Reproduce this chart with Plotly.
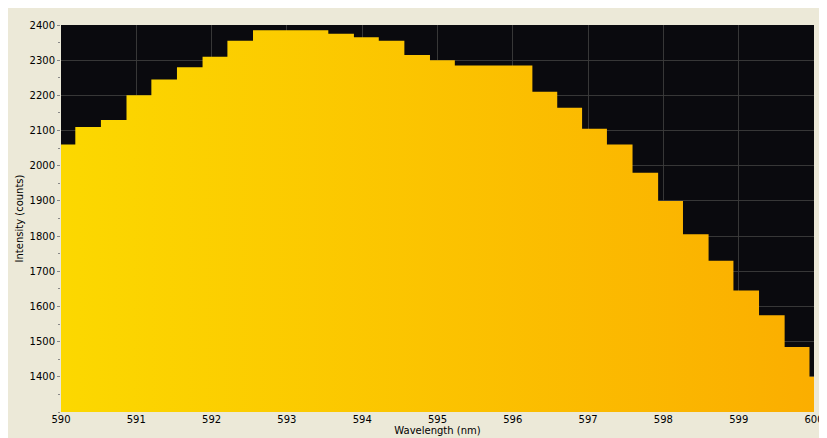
import plotly.graph_objects as go

wavelength = [590.00, 590.19, 590.53, 590.87, 591.20, 591.54, 591.88, 592.21, 592.55, 593.55,
              593.89, 594.22, 594.56, 594.90, 595.23, 596.26, 596.59, 596.92, 597.25, 597.59,
              597.93, 598.26, 598.60, 598.93, 599.27, 599.61, 599.94, 600.00]
intensity = [2060, 2110, 2130, 2200, 2245, 2280, 2310, 2355, 2385, 2375,
             2365, 2355, 2315, 2300, 2285, 2210, 2165, 2105, 2060, 1980,
             1900, 1805, 1730, 1645, 1575, 1485, 1400, 1400]
x_ticks = list(range(590, 601))
y_ticks = list(range(1400, 2401, 100))

fig = go.Figure(go.Scatter(
    x=wavelength, y=intensity, mode="lines", line_shape="hv",
    line=dict(width=0, color="#FCD200"), fill="tozeroy",
    fillgradient=dict(type="horizontal",
                      colorscale=[[0, "#FCD800"], [1, "#FBAE00"]]),
    hoverinfo="x+y"))

grid = "rgba(60,60,60,0.9)"
fig.update_layout(
    width=827, height=438,
    paper_bgcolor="#ECE9D8", plot_bgcolor="#0A0A0E",
    margin=dict(l=44, r=11, t=14, b=34),
    font=dict(family="DejaVu Sans", size=10, color="black"),
    showlegend=False,
    xaxis=dict(range=[590, 600], tickvals=x_ticks, gridcolor=grid, gridwidth=1,
               showline=False, zeroline=False, ticks="", layer="above traces",
               title=dict(text="Wavelength (nm)", standoff=2, font=dict(size=10))),
    yaxis=dict(range=[1300, 2400], tickvals=y_ticks, gridcolor=grid, gridwidth=1,
               showline=False, zeroline=False, ticks="outside", ticklen=3,
               tickcolor="#888", layer="above traces",
               minor=dict(dtick=50, ticks="outside", ticklen=2, tickcolor="#888"),
               title=dict(text="Intensity (counts)", standoff=4, font=dict(size=10))),
)
fig.write_html("out.html")
